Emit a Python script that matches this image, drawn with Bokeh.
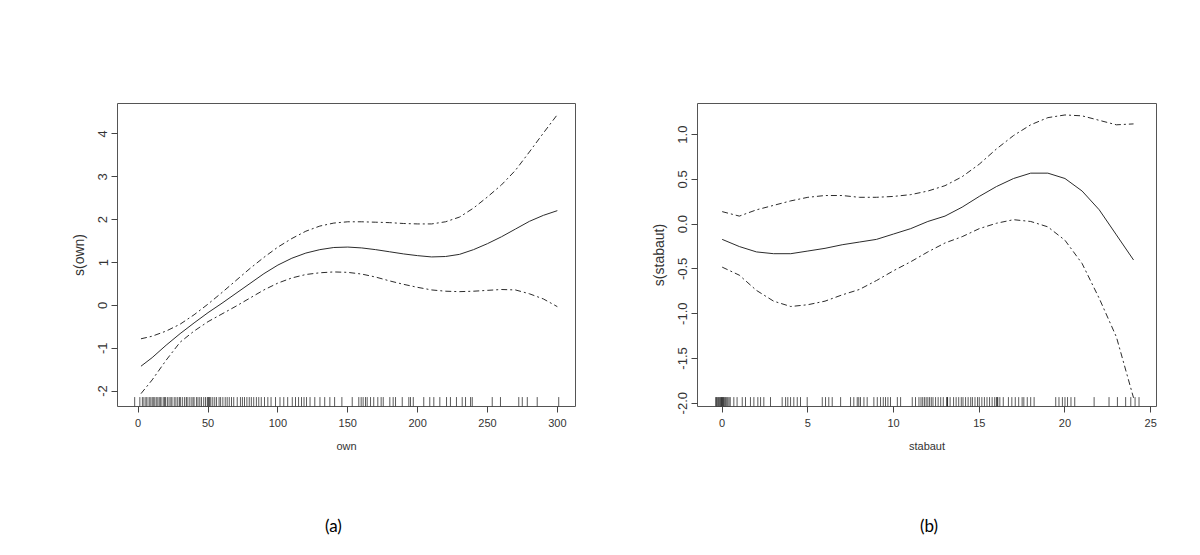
from bokeh.plotting import figure
from bokeh.layouts import row, column
from bokeh.models import FixedTicker, Div
from bokeh.embed import file_html
from bokeh.resources import INLINE

# ---------------- data: panel (a) ----------------
own_x = [2, 10, 20, 30, 40, 50, 60, 70, 80, 90, 100, 110, 120, 130, 140, 150,
         160, 170, 180, 190, 200, 210, 220, 230, 240, 250, 260, 270, 280, 290, 300]
own_fit = [-1.42, -1.22, -0.93, -0.66, -0.41, -0.17, 0.05, 0.28, 0.51, 0.74, 0.94,
           1.10, 1.22, 1.30, 1.35, 1.36, 1.34, 1.30, 1.25, 1.20, 1.16, 1.13, 1.14,
           1.19, 1.30, 1.44, 1.60, 1.78, 1.96, 2.10, 2.21]
own_upper = [-0.78, -0.72, -0.60, -0.44, -0.22, 0.03, 0.30, 0.58, 0.86, 1.12, 1.36,
             1.56, 1.73, 1.85, 1.92, 1.95, 1.95, 1.94, 1.93, 1.91, 1.90, 1.90, 1.95,
             2.06, 2.27, 2.53, 2.81, 3.15, 3.58, 4.02, 4.45]
own_lower = [-2.06, -1.74, -1.28, -0.86, -0.60, -0.38, -0.20, -0.02, 0.17, 0.36, 0.52,
             0.64, 0.72, 0.76, 0.78, 0.77, 0.73, 0.66, 0.57, 0.49, 0.42, 0.36, 0.33,
             0.32, 0.33, 0.35, 0.37, 0.36, 0.27, 0.15, -0.03]
own_rug = [-2.5, 1.2, 3.0, 4.1, 5.5, 6.3, 7.8, 8.6, 9.9, 10.7, 11.5, 12.8, 13.6, 14.9,
           15.7, 16.4, 17.9, 18.8, 19.6, 20.9, 22.1, 23.4, 24.2, 25.8, 27.0, 28.3, 29.5,
           30.2, 31.6, 33.1, 34.4, 35.0, 36.5, 37.9, 39.2, 40.0, 41.7, 42.8, 44.1, 45.3,
           46.9, 48.2, 49.5, 50.1, 50.6, 51.2, 52.0, 53.4, 54.8, 56.1, 57.9, 59.0, 60.6,
           62.3, 63.7, 65.2, 66.8, 68.4, 70.9, 73.2, 74.6, 76.1, 77.8, 79.5, 81.0, 82.7,
           84.6, 86.3, 88.1, 90.4, 92.8, 95.1, 98.3, 101.5, 104.2, 107.0, 110.3, 112.6,
           114.8, 116.9, 118.7, 120.5, 123.0, 126.4, 130.1, 133.5, 137.2, 140.6, 145.8,
           153.2, 157.9, 159.6, 161.0, 162.7, 163.9, 166.3, 168.6, 171.5, 173.9, 175.4,
           180.1, 182.5, 184.2, 189.0, 193.7, 194.9, 196.9, 204.4, 208.7, 211.6, 215.9,
           220.7, 223.5, 227.8, 231.9, 234.3, 237.9, 239.1, 253.4, 259.3, 272.4, 274.9,
           278.5, 285.6, 301.0]
own_xticks = [0, 50, 100, 150, 200, 250, 300]
own_xlabels = ["0", "50", "100", "150", "200", "250", "300"]
own_yticks = [-2, -1, 0, 1, 2, 3, 4]
own_ylabels = ["-2", "-1", "0", "1", "2", "3", "4"]

# ---------------- data: panel (b) ----------------
stab_x = [0, 1, 2, 3, 4, 5, 6, 7, 8, 9, 10, 11, 12, 13, 14, 15, 16, 17, 18, 19, 20,
          21, 22, 23, 24]
stab_fit = [-0.17, -0.25, -0.31, -0.33, -0.33, -0.30, -0.27, -0.23, -0.20, -0.17,
            -0.11, -0.05, 0.03, 0.09, 0.19, 0.31, 0.42, 0.51, 0.57, 0.57, 0.51, 0.37,
            0.16, -0.12, -0.40]
stab_upper = [0.14, 0.09, 0.16, 0.21, 0.26, 0.30, 0.32, 0.32, 0.30, 0.30, 0.31, 0.33,
              0.37, 0.43, 0.53, 0.67, 0.84, 0.99, 1.11, 1.19, 1.22, 1.21, 1.16, 1.11,
              1.12]
stab_lower = [-0.48, -0.57, -0.74, -0.86, -0.92, -0.90, -0.86, -0.79, -0.73, -0.63,
              -0.52, -0.42, -0.31, -0.21, -0.14, -0.05, 0.01, 0.05, 0.03, -0.03, -0.18,
              -0.44, -0.83, -1.26, -1.94]
stab_rug = [-0.38, -0.33, -0.28, -0.22, -0.17, -0.12, -0.08, -0.04, 0.0, 0.03, 0.07,
            0.11, 0.16, 0.21, 0.27, 0.33, 0.4, 0.47, 0.68, 0.87, 1.17, 1.36, 1.65, 1.85,
            2.08, 2.24, 2.43, 2.82, 3.50, 3.70, 3.83, 3.99, 4.18, 4.38, 4.57, 4.96, 5.84,
            6.03, 6.22, 6.42, 6.91, 7.49, 7.68, 7.88, 7.97, 8.07, 8.27, 8.46, 8.85, 9.05,
            9.24, 9.40, 9.53, 9.67, 9.82, 10.22, 10.41, 11.09, 11.28, 11.48, 11.6, 11.7,
            11.8, 11.9, 12.0, 12.1, 12.2, 12.3, 12.45, 12.6, 12.75, 12.9, 13.1, 13.13,
            13.15, 13.3, 13.5, 13.65, 13.8, 13.95, 14.05, 14.2, 14.35, 14.5, 14.6, 14.75,
            14.9, 15.0, 15.15, 15.3, 15.45, 15.6, 15.75, 15.9, 16.0, 16.05, 16.08, 16.2,
            16.4, 16.7, 16.9, 17.1, 17.3, 17.5, 17.6, 17.8, 18.0, 18.2, 19.46, 19.65,
            19.85, 20.0, 20.15, 20.35, 20.57, 21.7, 22.57, 23.06, 23.54, 23.84, 24.09,
            24.32]
stab_xticks = [0, 5, 10, 15, 20, 25]
stab_xlabels = ["0", "5", "10", "15", "20", "25"]
stab_yticks = [-2.0, -1.5, -1.0, -0.5, 0.0, 0.5, 1.0]
stab_ylabels = ["-2.0", "-1.5", "-1.0", "-0.5", "0.0", "0.5", "1.0"]

FONT = "Liberation Sans"
LINE_COL = "#2b2b2b"
TEXT_COL = "#333333"
DASH = "6 3 2 3"
FIG_H = 470


def make_panel(width, xr, yr, frame_w, frame_h, left, top, xs, fit, up, lo, rug,
               rug_len, xticks, xlabels, yticks, ylabels, xlab, ylab):
    p = figure(width=width, height=FIG_H, x_range=xr, y_range=yr,
               output_backend="svg", toolbar_location=None,
               min_border_left=left, min_border_top=top,
               min_border_right=width - left - frame_w,
               min_border_bottom=FIG_H - top - frame_h)
    p.background_fill_color = "white"
    p.border_fill_color = "white"
    p.outline_line_color = "#555555"
    p.outline_line_width = 1
    p.grid.visible = False

    p.line(xs, fit, line_color=LINE_COL, line_width=1)
    p.line(xs, up, line_color=LINE_COL, line_width=1, line_dash=DASH)
    p.line(xs, lo, line_color=LINE_COL, line_width=1, line_dash=DASH)

    y0 = [yr[0]] * len(rug)
    y1 = [yr[0] + rug_len] * len(rug)
    p.segment(x0=rug, y0=y0, x1=rug, y1=y1, line_color="black", line_alpha=0.65,
              line_width=1)

    for ax in (p.xaxis[0], p.yaxis[0]):
        ax.axis_line_color = None
        ax.major_tick_line_color = "#444444"
        ax.major_tick_out = 6
        ax.major_tick_in = 0
        ax.minor_tick_line_color = None
        ax.major_label_text_font = FONT
        ax.major_label_text_color = TEXT_COL
        ax.axis_label_text_font = FONT
        ax.axis_label_text_font_style = "normal"
        ax.axis_label_text_color = TEXT_COL

    p.xaxis.ticker = FixedTicker(ticks=xticks)
    p.xaxis.major_label_overrides = {t: l for t, l in zip(xticks, xlabels)}
    p.xaxis.major_label_text_font_size = "11px"
    p.xaxis.major_label_standoff = 6
    p.xaxis.axis_label = xlab
    p.xaxis.axis_label_text_font_size = "11px"
    p.xaxis.axis_label_standoff = 10

    p.yaxis.ticker = FixedTicker(ticks=yticks)
    p.yaxis.major_label_overrides = {t: l for t, l in zip(yticks, ylabels)}
    p.yaxis.major_label_orientation = "vertical"
    p.yaxis.major_label_text_font_size = "13px"
    p.yaxis.major_label_standoff = 4
    p.yaxis.axis_label = ylab
    p.yaxis.axis_label_text_font_size = "14px"
    p.yaxis.axis_label_standoff = 9
    return p


def tag_div(text, width, pad_left):
    html = ('<div style="padding-top:46px; padding-left:%dpx; font-family:Lato; '
            'font-size:17px; line-height:20px; color:#000;">%s</div>' % (pad_left, text))
    return Div(text=html, width=width, height=555 - FIG_H, margin=0)


p1 = make_panel(600, (-14.8, 313.0), (-2.36, 4.71), 458, 303, 117, 103,
                own_x, own_fit, own_upper, own_lower, own_rug, 0.22,
                own_xticks, own_xlabels, own_yticks, own_ylabels, "own", "s(own)")
p2 = make_panel(592, (-1.44, 25.34), (-2.037, 1.348), 459, 304, 97, 103,
                stab_x, stab_fit, stab_upper, stab_lower, stab_rug, 0.105,
                stab_xticks, stab_xlabels, stab_yticks, stab_ylabels,
                "stabaut", "s(stabaut)")

layout = column(row(p1, p2), row(tag_div("(a)", 600, 325), tag_div("(b)", 592, 320)))
open("out.html", "w").write(file_html(layout, INLINE))
